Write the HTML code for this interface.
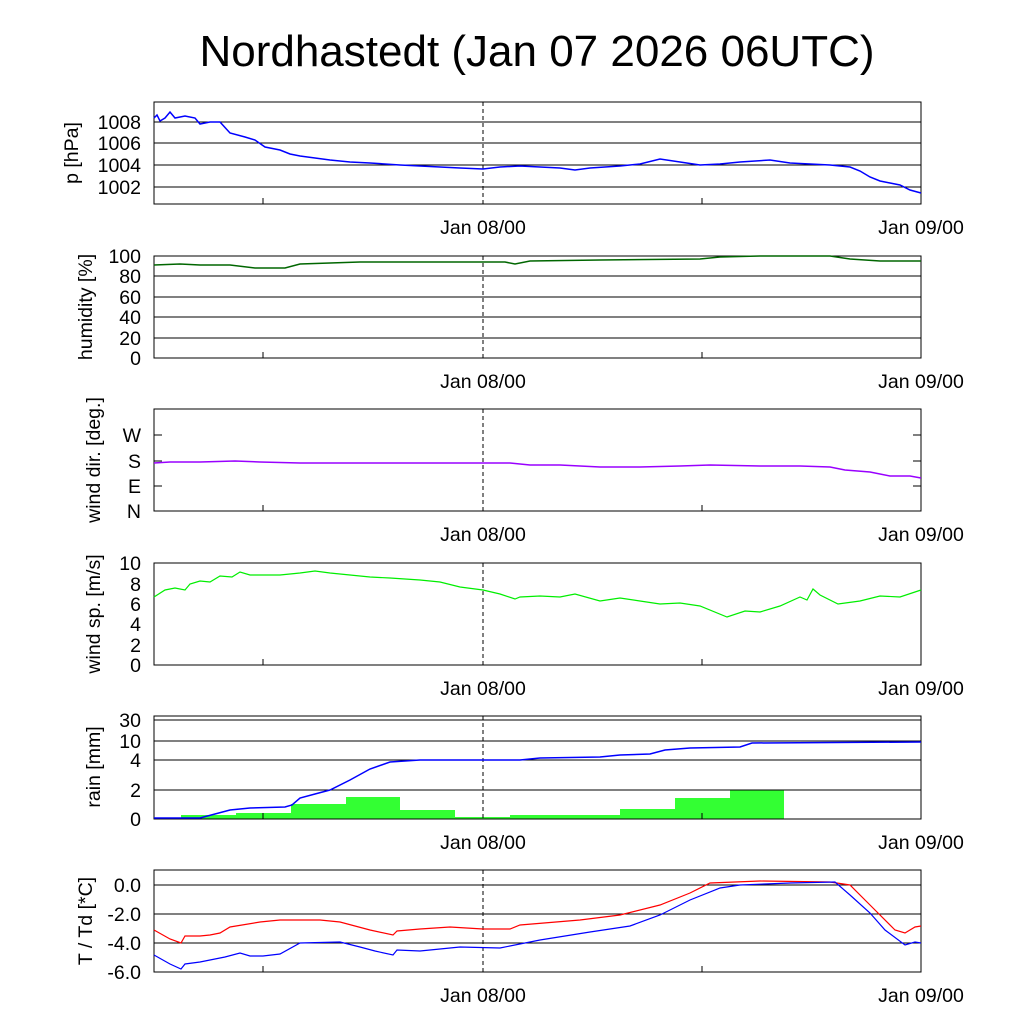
<!DOCTYPE html>
<html><head><meta charset="utf-8"><style>
html,body{margin:0;padding:0;background:#fff;}
svg text{font-family:"Liberation Sans",sans-serif;fill:#000;}
</style></head><body>
<svg width="1024" height="1024" viewBox="0 0 1024 1024" xmlns="http://www.w3.org/2000/svg">
<text x="537" y="66" font-size="44" text-anchor="middle">Nordhastedt (Jan 07 2026 06UTC)</text>
<g font-size="19.5">
<!-- Panel 1 pressure -->
<g stroke="#000" stroke-width="1" fill="none">
<line x1="154" y1="122" x2="921" y2="122"/><line x1="154" y1="143" x2="921" y2="143"/><line x1="154" y1="165" x2="921" y2="165"/><line x1="154" y1="187" x2="921" y2="187"/>
<line x1="483" y1="102" x2="483" y2="204" stroke-dasharray="4,3"/>
<line x1="263" y1="204" x2="263" y2="198"/><line x1="702" y1="204" x2="702" y2="198"/>
<rect x="154" y="102" width="767" height="102"/>
</g>
<polyline fill="none" stroke="#00f" stroke-width="1.5" points="154,118 157,115 160,121 165,118 170,112 175,118 185,116 195,118 200,124 210,122 220,122 230,133 245,137 255,140 265,147 280,150 290,154 300,156 315,158 330,160 350,162 370,163 400,165 420,166 440,167 460,168 483,169 500,167 520,166 540,167 560,168 575,170 590,168 620,166 640,164 660,159 680,162 700,165 720,164 740,162 770,160 790,163 810,164 830,165 850,167 860,171 870,177 880,181 890,183 900,185 910,190 921,193"/>
<g text-anchor="end"><text x="141" y="129">1008</text><text x="141" y="150">1006</text><text x="141" y="172">1004</text><text x="141" y="194">1002</text></g>
<text transform="translate(78,153) rotate(-90)" text-anchor="middle">p [hPa]</text>
<text x="483" y="234" text-anchor="middle">Jan 08/00</text><text x="921" y="234" text-anchor="middle">Jan 09/00</text>

<!-- Panel 2 humidity -->
<g stroke="#000" stroke-width="1" fill="none">
<line x1="154" y1="276" x2="921" y2="276"/><line x1="154" y1="297" x2="921" y2="297"/><line x1="154" y1="317" x2="921" y2="317"/><line x1="154" y1="338" x2="921" y2="338"/>
<line x1="483" y1="256" x2="483" y2="358" stroke-dasharray="4,3"/>
<line x1="263" y1="358" x2="263" y2="352"/><line x1="702" y1="358" x2="702" y2="352"/>
<rect x="154" y="256" width="767" height="102"/>
</g>
<polyline fill="none" stroke="#060" stroke-width="1.5" points="154,265 180,264 200,265 230,265 255,268 285,268 300,264 330,263 360,262 400,262 483,262 505,262 515,264 530,261 600,260 700,259 720,257 760,256 830,256 850,259 880,261 921,261"/>
<g text-anchor="end"><text x="141" y="263">100</text><text x="141" y="283">80</text><text x="141" y="304">60</text><text x="141" y="324">40</text><text x="141" y="345">20</text><text x="141" y="365">0</text></g>
<text transform="translate(92,307) rotate(-90)" text-anchor="middle">humidity [%]</text>
<text x="483" y="388" text-anchor="middle">Jan 08/00</text><text x="921" y="388" text-anchor="middle">Jan 09/00</text>

<!-- Panel 3 wind dir -->
<g stroke="#000" stroke-width="1" fill="none">
<line x1="483" y1="409" x2="483" y2="511" stroke-dasharray="4,3"/>
<line x1="154" y1="435" x2="162" y2="435"/><line x1="154" y1="461" x2="162" y2="461"/><line x1="154" y1="486" x2="162" y2="486"/>
<line x1="913" y1="435" x2="921" y2="435"/><line x1="913" y1="461" x2="921" y2="461"/><line x1="913" y1="486" x2="921" y2="486"/>
<line x1="263" y1="511" x2="263" y2="505"/><line x1="702" y1="511" x2="702" y2="505"/>
<rect x="154" y="409" width="767" height="102"/>
</g>
<polyline fill="none" stroke="#90f" stroke-width="1.5" points="154,463 170,462 200,462 235,461 260,462 300,463 400,463 483,463 510,463 530,465 560,465 600,467 640,467 680,466 710,465 760,466 800,466 830,467 845,470 870,472 890,476 910,476 921,478"/>
<g text-anchor="end"><text x="141" y="442">W</text><text x="141" y="468">S</text><text x="141" y="493">E</text><text x="141" y="518">N</text></g>
<text transform="translate(100,460) rotate(-90)" text-anchor="middle">wind dir. [deg.]</text>
<text x="483" y="541" text-anchor="middle">Jan 08/00</text><text x="921" y="541" text-anchor="middle">Jan 09/00</text>

<!-- Panel 4 wind speed -->
<g stroke="#000" stroke-width="1" fill="none">
<line x1="483" y1="563" x2="483" y2="665" stroke-dasharray="4,3"/>
<line x1="263" y1="665" x2="263" y2="659"/><line x1="702" y1="665" x2="702" y2="659"/>
<rect x="154" y="563" width="767" height="102"/>
</g>
<polyline fill="none" stroke="#0e0" stroke-width="1.2" points="154,597 165,590 175,588 185,590 190,584 200,581 210,582 220,576 232,577 240,572 250,575 260,575 280,575 300,573 315,571 330,573 350,575 370,577 390,578 420,580 440,582 460,587 483,590 500,594 515,599 520,597 540,596 560,597 575,594 600,601 620,598 640,601 660,604 680,603 700,606 727,617 745,611 760,612 780,606 800,597 807,600 813,589 820,595 838,604 860,601 880,596 900,597 921,590"/>
<g text-anchor="end"><text x="141" y="570">10</text><text x="141" y="591">8</text><text x="141" y="611">6</text><text x="141" y="631">4</text><text x="141" y="652">2</text><text x="141" y="672">0</text></g>
<text transform="translate(100,614) rotate(-90)" text-anchor="middle">wind sp. [m/s]</text>
<text x="483" y="695" text-anchor="middle">Jan 08/00</text><text x="921" y="695" text-anchor="middle">Jan 09/00</text>

<!-- Panel 5 rain -->
<g fill="#3f3" stroke="none">
<rect x="181" y="815" width="55" height="4"/><rect x="236" y="813" width="55" height="6"/><rect x="291" y="804" width="55" height="15"/><rect x="346" y="797" width="54" height="22"/><rect x="400" y="810" width="55" height="9"/><rect x="455" y="817" width="55" height="2"/><rect x="510" y="815" width="55" height="4"/><rect x="565" y="815" width="55" height="4"/><rect x="620" y="809" width="55" height="10"/><rect x="675" y="798" width="55" height="21"/><rect x="730" y="790" width="54" height="29"/>
</g>
<g stroke="#000" stroke-width="1" fill="none">
<line x1="154" y1="720" x2="921" y2="720"/><line x1="154" y1="741" x2="921" y2="741"/><line x1="154" y1="760" x2="921" y2="760"/><line x1="154" y1="790" x2="921" y2="790"/>
<line x1="483" y1="716" x2="483" y2="819" stroke-dasharray="4,3"/>
<line x1="263" y1="819" x2="263" y2="813"/><line x1="702" y1="819" x2="702" y2="813"/>
<rect x="154" y="716" width="767" height="103"/>
</g>
<polyline fill="none" stroke="#00f" stroke-width="1.5" points="154,818 200,818 215,814 230,810 250,808 285,807 292,805 300,798 315,794 330,790 350,780 370,769 390,762 420,760 483,760 520,760 540,758 600,757 620,755 650,754 665,750 690,748 740,747 752,743 921,742"/>
<g text-anchor="end"><text x="141" y="727">30</text><text x="141" y="748">10</text><text x="141" y="767">4</text><text x="141" y="797">2</text><text x="141" y="826">0</text></g>
<text transform="translate(100,767) rotate(-90)" text-anchor="middle">rain [mm]</text>
<text x="483" y="849" text-anchor="middle">Jan 08/00</text><text x="921" y="849" text-anchor="middle">Jan 09/00</text>

<!-- Panel 6 temp -->
<g stroke="#000" stroke-width="1" fill="none">
<line x1="154" y1="885" x2="921" y2="885"/><line x1="154" y1="914" x2="921" y2="914"/><line x1="154" y1="943" x2="921" y2="943"/>
<line x1="483" y1="870" x2="483" y2="972" stroke-dasharray="4,3"/>
<line x1="263" y1="972" x2="263" y2="966"/><line x1="702" y1="972" x2="702" y2="966"/>
<rect x="154" y="870" width="767" height="102"/>
</g>
<polyline fill="none" stroke="#f00" stroke-width="1.2" points="154,930 170,939 181,943 185,936 200,936 210,935 220,933 230,927 260,922 280,920 320,920 340,922 370,930 393,935 397,931 420,929 450,927 483,929 510,929 520,925 580,920 620,915 660,905 690,893 710,883 760,881 830,882 850,885 870,905 895,930 905,933 915,927 921,926"/>
<polyline fill="none" stroke="#00f" stroke-width="1.2" points="154,955 170,964 181,969 185,964 200,962 225,957 240,953 250,956 263,956 280,954 300,943 340,942 360,947 375,951 393,955 397,950 420,951 460,947 500,948 540,940 590,932 630,926 660,915 690,900 720,888 740,885 790,883 835,882 850,895 870,913 885,930 905,945 915,942 921,943"/>
<g text-anchor="end"><text x="141" y="892">0.0</text><text x="141" y="921">-2.0</text><text x="141" y="950">-4.0</text><text x="141" y="979">-6.0</text></g>
<text transform="translate(92,921) rotate(-90)" text-anchor="middle">T / Td [*C]</text>
<text x="483" y="1002" text-anchor="middle">Jan 08/00</text><text x="921" y="1002" text-anchor="middle">Jan 09/00</text>
</g>
</svg>
</body></html>
